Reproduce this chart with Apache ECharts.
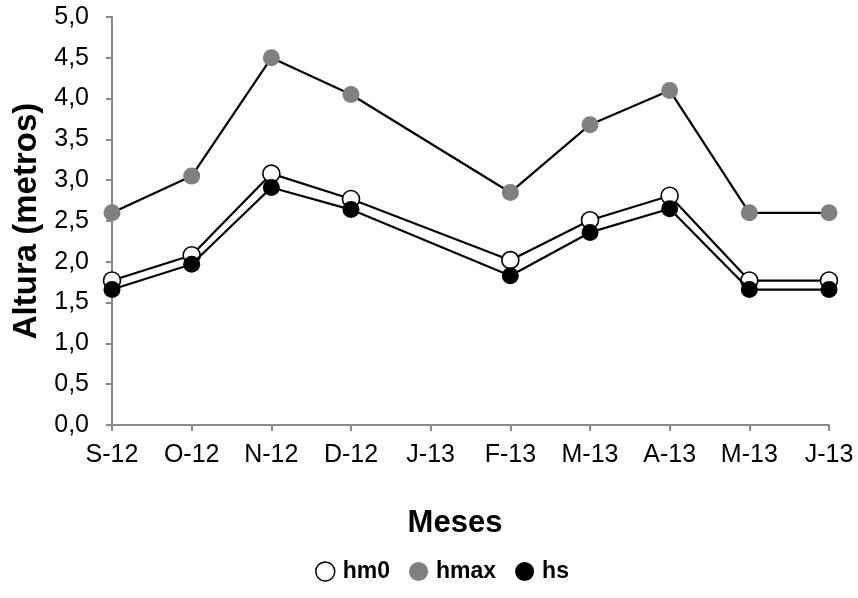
<!DOCTYPE html>
<html>
<head>
<meta charset="utf-8">
<script src="https://cdn.jsdelivr.net/npm/echarts@6/dist/echarts.min.js"></script>
<style>
  html, body { margin: 0; padding: 0; background: #ffffff; }
  #chart { width: 858px; height: 598px; }
</style>
</head>
<body>
<div id="chart"></div>
<script>
// Monthly wave heights (metres); January 2013 has no record
var months = ['S-12', 'O-12', 'N-12', 'D-12', 'J-13', 'F-13', 'M-13', 'A-13', 'M-13', 'J-13'];
var hm0  = [1.77, 2.08, 3.08, 2.77, null, 2.02, 2.51, 2.81, 1.77, 1.77];
var hmax = [2.60, 3.05, 4.50, 4.05, null, 2.85, 3.68, 4.10, 2.60, 2.60];
var hs   = [1.66, 1.97, 2.91, 2.64, null, 1.83, 2.36, 2.65, 1.66, 1.66];
var yTicks = { min: 0, max: 5, step: 0.5 };

var font = 'Liberation Sans, Arial, sans-serif';
var chart = echarts.init(document.getElementById('chart'));

function lineSeries(name, data, fill, border, z) {
  return {
    name: name,
    type: 'line',
    data: data,
    connectNulls: true,
    symbol: 'circle',
    symbolSize: 17,
    z: z,
    lineStyle: { color: '#000000', width: 2.2 },
    itemStyle: { color: fill, borderColor: border, borderWidth: border ? 1.6 : 0 },
    emphasis: { disabled: true }
  };
}

chart.setOption({
  animation: false,
  backgroundColor: '#ffffff',
  textStyle: { fontFamily: font },
  grid: { left: 112, right: 29, top: 17, bottom: 173 },
  legend: {
    top: 555,
    left: 310,
    itemWidth: 19,
    itemHeight: 19,
    itemGap: 19,
    icon: 'circle',
    textStyle: { fontFamily: font, fontSize: 23, fontWeight: 'bold', color: '#000000', padding: [0, 0, 0, 3] },
    data: [
      { name: 'hm0', itemStyle: { color: '#ffffff', borderColor: '#000000', borderWidth: 1.5 } },
      { name: 'hmax', itemStyle: { color: '#808080', borderWidth: 0 } },
      { name: 'hs', itemStyle: { color: '#000000', borderWidth: 0 } }
    ]
  },
  xAxis: {
    type: 'category',
    data: months,
    boundaryGap: false,
    name: 'Meses',
    nameLocation: 'middle',
    nameGap: 83,
    nameTextStyle: { fontFamily: font, fontSize: 31, fontWeight: 'bold', color: '#000000', padding: [0, 31, 0, 0] },
    axisLine: { lineStyle: { color: '#888888', width: 2 } },
    axisTick: { alignWithLabel: true, length: 6, lineStyle: { color: '#888888', width: 2 } },
    axisLabel: { color: '#000000', fontSize: 25, fontFamily: font, margin: 18, interval: 0 },
    splitLine: { show: false }
  },
  yAxis: {
    type: 'value',
    min: yTicks.min,
    max: yTicks.max,
    interval: yTicks.step,
    name: 'Altura (metros)',
    nameLocation: 'middle',
    nameGap: 66,
    nameTextStyle: { fontFamily: font, fontSize: 33, fontWeight: 'bold', color: '#000000' },
    axisLine: { show: true, lineStyle: { color: '#888888', width: 2 } },
    axisTick: { show: true, length: 6, lineStyle: { color: '#888888', width: 2 } },
    axisLabel: {
      color: '#000000', fontSize: 25, fontFamily: font, margin: 23,
      formatter: function (v) { return v.toFixed(1).replace('.', ','); }
    },
    splitLine: { show: false }
  },
  series: [
    lineSeries('hmax', hmax, '#808080', null, 2),
    lineSeries('hm0', hm0, '#ffffff', '#000000', 3),
    lineSeries('hs', hs, '#000000', null, 4)
  ]
});
</script>
</body>
</html>
